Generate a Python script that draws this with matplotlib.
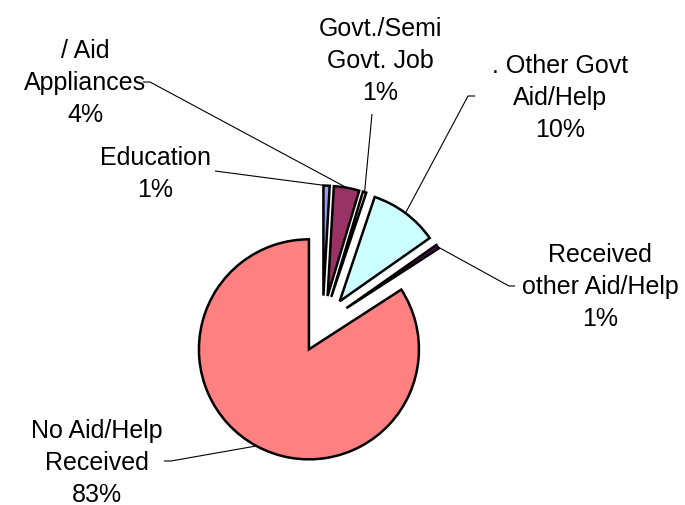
import matplotlib
matplotlib.use("Agg")
import matplotlib.pyplot as plt
import numpy as np

# slice data, clockwise from 12 o'clock
labels = ["Education", "/ Aid\nAppliances", "Govt./Semi\nGovt. Job",
          ". Other Govt\nAid/Help", "Received\nother Aid/Help",
          "No Aid/Help\nReceived"]
values = [0.9, 3.7, 0.5, 10.0, 0.6, 83.3]
pct_labels = ["1%", "4%", "1%", "10%", "1%", "83%"]
colors = ["#9999FF", "#993366", "#FFFFCC", "#CCFFFF", "#660066", "#FF8080"]

# layout in pixels (label centre, leader start)
text_px = [(155, 174), (85, 83), (380, 61), (560, 98), (600, 287), (97, 463)]
lead_px = [(215, 172), (150, 83), (372, 115), (468, 97), (509, 287), (171, 462)]
tick_px = [None, (143, 83), None, (475, 97), (515, 287), (164, 462)]

W, H = 685, 506
R_PX = 110.0
CX, CY = 322.6, 325.2


def px(x, y):
    return ((x - CX) / R_PX, (CY - y) / R_PX)


plt.rcParams["font.family"] = ["Liberation Sans", "DejaVu Sans"]

fig = plt.figure(figsize=(W / 100, H / 100), dpi=100)
ax = fig.add_axes([0, 0, 1, 1])

wedges, _ = ax.pie(values, colors=colors, explode=[0.26] * len(values),
                   startangle=90, counterclock=False, radius=1,
                   wedgeprops=dict(edgecolor="black", linewidth=1.8))

ax.set_xlim(-CX / R_PX, (W - CX) / R_PX)
ax.set_ylim(-(H - CY) / R_PX, CY / R_PX)
ax.set_aspect("equal")
ax.axis("off")

for i, w in enumerate(wedges):
    mid = np.deg2rad((w.theta1 + w.theta2) / 2)
    ex = w.center[0] + w.r * np.cos(mid)
    ey = w.center[1] + w.r * np.sin(mid)
    sx, sy = px(*lead_px[i])
    xs, ys = [sx, ex], [sy, ey]
    if tick_px[i] is not None:
        tx, ty = px(*tick_px[i])
        xs, ys = [tx] + xs, [ty] + ys
    ax.plot(xs, ys, color="black", lw=0.8, solid_capstyle="butt")
    lx, ly = px(*text_px[i])
    ax.text(lx, ly, labels[i] + "\n" + pct_labels[i], ha="center", va="center",
            fontsize=18, linespacing=1.42, color="black")

fig.savefig("out.png", dpi=100)
